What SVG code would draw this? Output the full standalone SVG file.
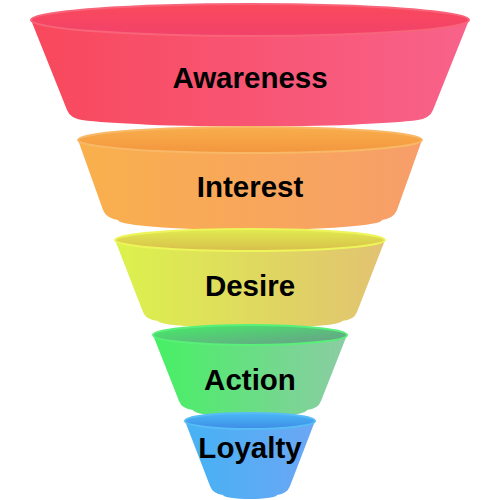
<svg xmlns="http://www.w3.org/2000/svg" width="500" height="500" viewBox="0 0 500 500">
<defs>
<linearGradient id="b1" x1="0" y1="0" x2="1" y2="0"><stop offset="0" stop-color="#f8485c"/><stop offset="1" stop-color="#f8628a"/></linearGradient>
<linearGradient id="t1" x1="0" y1="0" x2="0" y2="1"><stop offset="0" stop-color="#fa4a5c"/><stop offset="1" stop-color="#f2426a"/></linearGradient>
<linearGradient id="b2" x1="0" y1="0" x2="1" y2="0"><stop offset="0" stop-color="#f9b04c"/><stop offset="1" stop-color="#f79e6a"/></linearGradient>
<linearGradient id="t2" x1="0" y1="0" x2="0" y2="1"><stop offset="0" stop-color="#f8ae4c"/><stop offset="1" stop-color="#f3963e"/></linearGradient>
<linearGradient id="b3" x1="0" y1="0" x2="1" y2="0"><stop offset="0" stop-color="#dcf24c"/><stop offset="1" stop-color="#e2c272"/></linearGradient>
<linearGradient id="t3" x1="0" y1="0" x2="0" y2="1"><stop offset="0" stop-color="#e0ec50"/><stop offset="1" stop-color="#d8be4c"/></linearGradient>
<linearGradient id="b4" x1="0" y1="0" x2="1" y2="0"><stop offset="0" stop-color="#46f064"/><stop offset="1" stop-color="#8ccca4"/></linearGradient>
<linearGradient id="t4" x1="0" y1="0" x2="1" y2="1"><stop offset="0" stop-color="#44ee66"/><stop offset="1" stop-color="#6c9a8c"/></linearGradient>
<linearGradient id="b5" x1="0" y1="0" x2="1" y2="0"><stop offset="0" stop-color="#46b2f4"/><stop offset="1" stop-color="#6ca6f4"/></linearGradient>
<linearGradient id="t5" x1="0" y1="0" x2="0" y2="1"><stop offset="0" stop-color="#4ab8f6"/><stop offset="1" stop-color="#3e8ce6"/></linearGradient>
</defs>
<style>
text{font-family:"Liberation Sans",Arial,sans-serif;font-weight:bold;font-size:29.5px;fill:#000;text-anchor:middle}
.rim{stroke-width:2}
</style>
<g id="awareness">
<path d="M31,20 L67,110 Q70,118 82,120 A180,10 0 0 0 418,120 Q430,118 433,110 L469,20 A219,16 0 0 0 31,20 Z" fill="url(#b1)"/>
<ellipse cx="250" cy="20" rx="219" ry="16" fill="url(#t1)" stroke="#f8647a" class="rim"/>
<text x="250" y="88">Awareness</text>
</g>
<g id="interest">
<path d="M78,140 L103,210 Q106,218 118,220 A132,10 0 0 0 382,220 Q394,218 397,210 L422,140 A172,13 0 0 0 78,140 Z" fill="url(#b2)"/>
<ellipse cx="250" cy="140" rx="172" ry="13" fill="url(#t2)" stroke="#f9b866" class="rim"/>
<text x="250" y="197">Interest</text>
</g>
<g id="desire">
<path d="M115,240 L143,312 Q146,320 158,321 A92,7 0 0 0 342,321 Q354,320 357,312 L385,240 A135,11 0 0 0 115,240 Z" fill="url(#b3)"/>
<ellipse cx="250" cy="240" rx="135" ry="11" fill="url(#t3)" stroke="#eef55a" class="rim"/>
<text x="250" y="296">Desire</text>
</g>
<g id="action">
<path d="M153,335 L179,401 Q182,409 193,410 A57,7 0 0 0 307,410 Q318,409 321,401 L347,335 A97,10 0 0 0 153,335 Z" fill="url(#b4)"/>
<ellipse cx="250" cy="335" rx="97" ry="10" fill="url(#t4)" stroke="#58f078" class="rim"/>
<text x="250" y="390">Action</text>
</g>
<g id="loyalty">
<path d="M185,421 L210,486 Q213,494 223,495 A27,4 0 0 0 277,495 Q287,494 290,486 L315,421 A65,8 0 0 0 185,421 Z" fill="url(#b5)"/>
<ellipse cx="250" cy="421" rx="65" ry="8" fill="url(#t5)" stroke="#58bcf6" class="rim"/>
<text x="250" y="458">Loyalty</text>
</g>
<g id="connectors"/>
</svg>
